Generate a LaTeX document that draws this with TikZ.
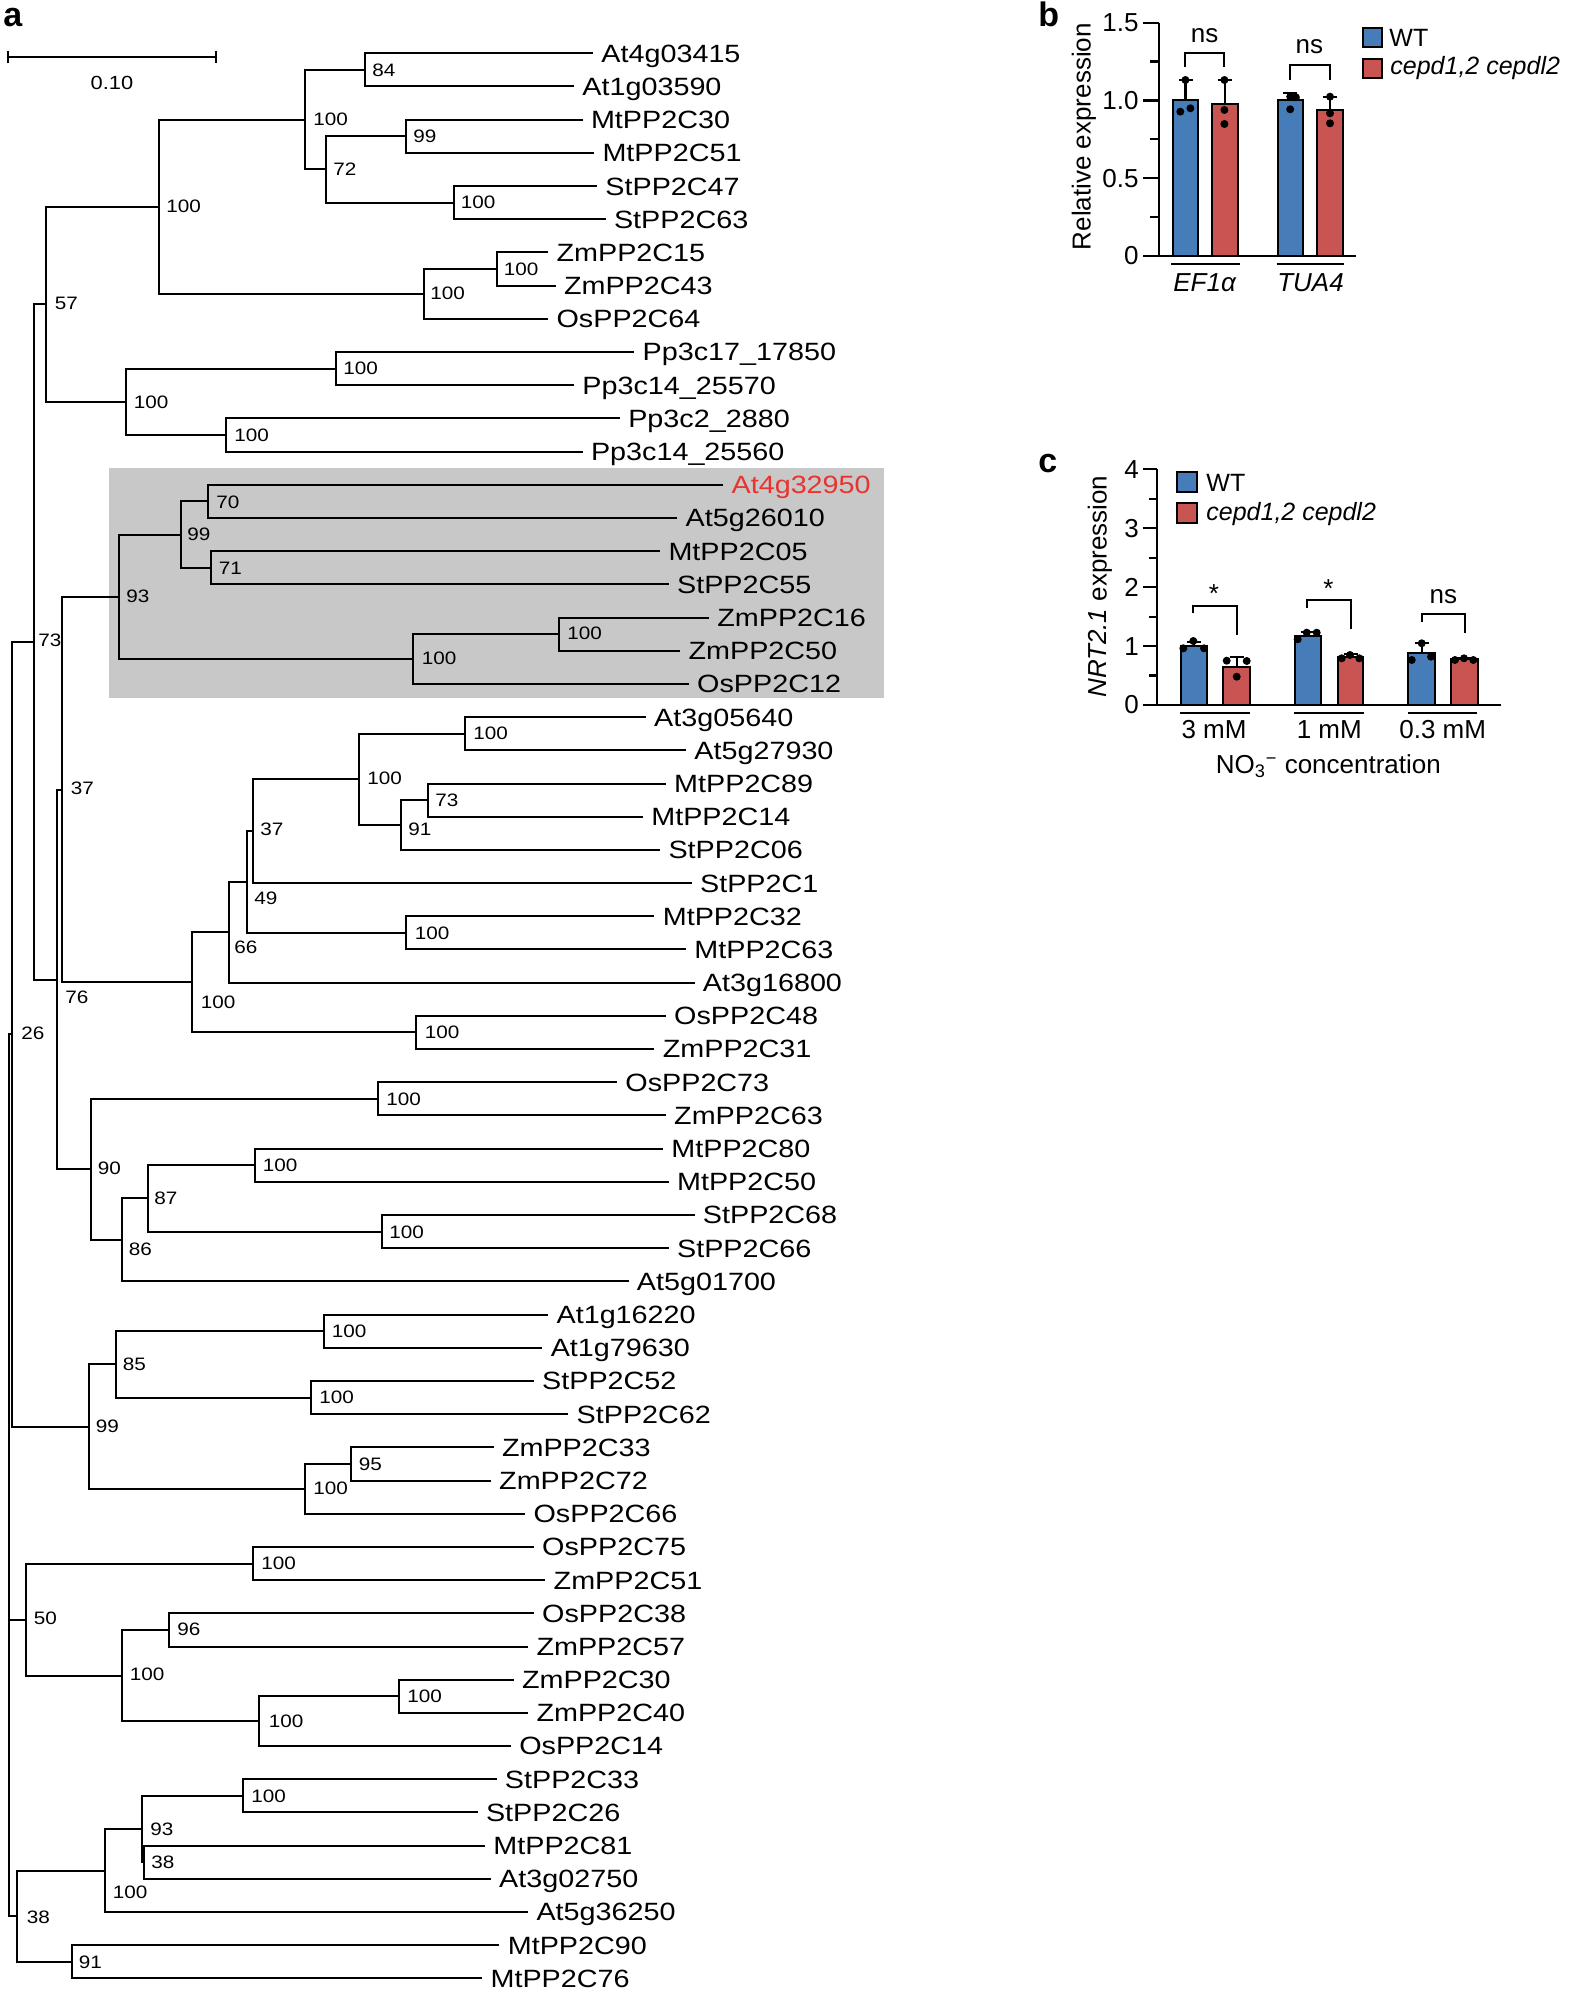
\documentclass[tikz,border=0pt]{standalone}
\usepackage{fontspec}
\setmainfont{Liberation Sans}
\newfontfamily\treefont[FakeStretch=1.15]{Liberation Sans}
\definecolor{wtblue}{RGB}{70,125,185}
\definecolor{mutred}{RGB}{200,85,82}
\definecolor{boxgray}{RGB}{200,200,200}
\definecolor{hlred}{RGB}{232,52,46}
\tikzset{
  br/.style={line width=1pt},
  leaf/.style={font=\treefont\fontsize{12.5}{14}\selectfont, anchor=west, inner xsep=4pt, inner ysep=0pt, text height=8.95pt, text depth=0pt},
  bs/.style={font=\treefont\fontsize{9}{10}\selectfont, anchor=west, inner sep=0pt, text height=6.45pt, text depth=0pt},
  lab/.style={font=\fontsize{13}{15}\selectfont, inner sep=0pt},
  leg/.style={font=\fontsize{12.5}{15}\selectfont, inner sep=0pt, anchor=west},
  panel/.style={font=\bfseries\fontsize{17}{20}\selectfont, inner sep=0pt, anchor=base west},
  axis/.style={line width=1.1pt},
  barbox/.style={line width=1.1pt, draw=black},
  errb/.style={line width=1.1pt},
  brk/.style={line width=1pt},
  dotm/.style={fill=black}
}
\begin{document}
\begin{tikzpicture}[x=0.5pt,y=-0.5pt]
\useasboundingbox (0,0) rectangle (1570,1989);
% ---------------- panel a ----------------
\node[panel] (pa) at (3,27) {a};
\fill[boxgray] (109.1,468.3) rectangle (884,698.3);
% scale bar
\draw[br] (7.5,56.7) -- (216.4,56.7) (7.5,50.7) -- (7.5,63.3) (216.4,50.7) -- (216.4,63.3);
\node[font=\treefont\fontsize{9.5}{11}\selectfont, inner sep=0pt] (sbl) at (112,82.7) {0.10};
% leaves
\node[leaf] (t1) at (593.0,53.3) {At4g03415};
\node[leaf] (t2) at (574.0,86.5) {At1g03590};
\node[leaf] (t3) at (582.6,119.7) {MtPP2C30};
\node[leaf] (t4) at (594.1,152.9) {MtPP2C51};
\node[leaf] (t5) at (597.0,186.1) {StPP2C47};
\node[leaf] (t6) at (605.6,219.3) {StPP2C63};
\node[leaf] (t7) at (548.2,252.4) {ZmPP2C15};
\node[leaf] (t8) at (555.6,285.6) {ZmPP2C43};
\node[leaf] (t9) at (548.2,318.8) {OsPP2C64};
\node[leaf] (t10) at (634.3,352.0) {Pp3c17\_17850};
\node[leaf] (t11) at (574.0,385.2) {Pp3c14\_25570};
\node[leaf] (t12) at (619.9,418.4) {Pp3c2\_2880};
\node[leaf] (t13) at (582.6,451.6) {Pp3c14\_25560};
\node[leaf, text=hlred] (t14) at (723.2,484.8) {At4g32950};
\node[leaf] (t15) at (677.3,518.0) {At5g26010};
\node[leaf] (t16) at (660.1,551.2) {MtPP2C05};
\node[leaf] (t17) at (668.7,584.3) {StPP2C55};
\node[leaf] (t18) at (708.9,617.5) {ZmPP2C16};
\node[leaf] (t19) at (680.2,650.7) {ZmPP2C50};
\node[leaf] (t20) at (688.8,683.9) {OsPP2C12};
\node[leaf] (t21) at (645.8,717.1) {At3g05640};
\node[leaf] (t22) at (686.0,750.3) {At5g27930};
\node[leaf] (t23) at (665.8,783.5) {MtPP2C89};
\node[leaf] (t24) at (642.9,816.7) {MtPP2C14};
\node[leaf] (t25) at (660.1,849.9) {StPP2C06};
\node[leaf] (t26) at (691.7,883.1) {StPP2C1};
\node[leaf] (t27) at (654.4,916.3) {MtPP2C32};
\node[leaf] (t28) at (686.0,949.4) {MtPP2C63};
\node[leaf] (t29) at (694.5,982.6) {At3g16800};
\node[leaf] (t30) at (665.8,1015.8) {OsPP2C48};
\node[leaf] (t31) at (654.4,1049.0) {ZmPP2C31};
\node[leaf] (t32) at (617.0,1082.2) {OsPP2C73};
\node[leaf] (t33) at (665.8,1115.4) {ZmPP2C63};
\node[leaf] (t34) at (663.0,1148.6) {MtPP2C80};
\node[leaf] (t35) at (668.7,1181.8) {MtPP2C50};
\node[leaf] (t36) at (694.5,1215.0) {StPP2C68};
\node[leaf] (t37) at (668.7,1248.2) {StPP2C66};
\node[leaf] (t38) at (628.5,1281.4) {At5g01700};
\node[leaf] (t39) at (548.2,1314.6) {At1g16220};
\node[leaf] (t40) at (542.4,1347.7) {At1g79630};
\node[leaf] (t41) at (533.8,1380.9) {StPP2C52};
\node[leaf] (t42) at (568.3,1414.1) {StPP2C62};
\node[leaf] (t43) at (493.6,1447.3) {ZmPP2C33};
\node[leaf] (t44) at (490.8,1480.5) {ZmPP2C72};
\node[leaf] (t45) at (525.2,1513.7) {OsPP2C66};
\node[leaf] (t46) at (533.8,1546.9) {OsPP2C75};
\node[leaf] (t47) at (545.3,1580.1) {ZmPP2C51};
\node[leaf] (t48) at (533.8,1613.3) {OsPP2C38};
\node[leaf] (t49) at (528.1,1646.5) {ZmPP2C57};
\node[leaf] (t50) at (513.7,1679.6) {ZmPP2C30};
\node[leaf] (t51) at (528.1,1712.8) {ZmPP2C40};
\node[leaf] (t52) at (510.9,1746.0) {OsPP2C14};
\node[leaf] (t53) at (496.5,1779.2) {StPP2C33};
\node[leaf] (t54) at (477.6,1812.4) {StPP2C26};
\node[leaf] (t55) at (485.0,1845.6) {MtPP2C81};
\node[leaf] (t56) at (490.8,1878.8) {At3g02750};
\node[leaf] (t57) at (528.1,1912.0) {At5g36250};
\node[leaf] (t58) at (499.4,1945.2) {MtPP2C90};
\node[leaf] (t59) at (482.2,1978.4) {MtPP2C76};
% internal nodes
\coordinate (nA) at (365.1,69.9);
\coordinate (nB) at (406.4,136.3);
\coordinate (nC) at (453.5,202.7);
\coordinate (nD) at (326.0,169.5);
\coordinate (nE) at (304.8,119.7);
\coordinate (nF) at (496.5,269.0);
\coordinate (nG) at (423.6,293.9);
\coordinate (nH) at (159.0,206.8);
\coordinate (nP1) at (335.8,368.6);
\coordinate (nP2) at (225.6,435.0);
\coordinate (nP) at (126.3,401.8);
\coordinate (nI) at (45.9,304.3);
\coordinate (nQ1) at (207.8,501.4);
\coordinate (nQ2) at (211.2,567.8);
\coordinate (nQ3) at (180.8,534.6);
\coordinate (nQ4) at (558.5,634.1);
\coordinate (nQ5) at (413.3,659.0);
\coordinate (nQ) at (119.4,596.8);
\coordinate (nR1) at (465.0,733.7);
\coordinate (nR2) at (427.6,800.1);
\coordinate (nR3) at (400.7,825.0);
\coordinate (nR4) at (359.3,779.4);
\coordinate (nR5) at (252.6,831.2);
\coordinate (nR6) at (406.4,932.9);
\coordinate (nR7) at (246.8,882.0);
\coordinate (nR8) at (228.5,932.3);
\coordinate (nR9) at (416.2,1032.4);
\coordinate (nR) at (192.3,982.4);
\coordinate (nS) at (62.0,789.6);
\coordinate (nT1) at (377.7,1098.8);
\coordinate (nT2) at (254.9,1165.2);
\coordinate (nT3) at (381.7,1231.6);
\coordinate (nT4) at (147.5,1198.4);
\coordinate (nT5) at (121.7,1239.9);
\coordinate (nT) at (90.7,1169.4);
\coordinate (nU) at (57.4,979.5);
\coordinate (nV) at (34.4,641.9);
\coordinate (nW1) at (324.3,1331.2);
\coordinate (nW2) at (311.1,1397.5);
\coordinate (nW3) at (116.0,1364.3);
\coordinate (nW4) at (351.3,1463.9);
\coordinate (nW5) at (305.4,1488.8);
\coordinate (nW) at (89.0,1426.6);
\coordinate (nX) at (12.0,1034.2);
\coordinate (nY1) at (252.6,1563.5);
\coordinate (nY2) at (169.3,1629.9);
\coordinate (nY3) at (398.9,1696.2);
\coordinate (nY4) at (259.4,1721.1);
\coordinate (nY5) at (121.7,1675.5);
\coordinate (nY) at (25.8,1619.5);
\coordinate (nZ1) at (242.8,1795.8);
\coordinate (nZ2) at (143.5,1862.2);
\coordinate (nZ3) at (141.8,1829.0);
\coordinate (nZ4) at (104.5,1870.5);
\coordinate (nZ5) at (71.8,1961.8);
\coordinate (nZ) at (17.2,1916.2);
\coordinate (root) at (8.6,1475);
% branches
\foreach \p/\c in {nA/t1.west,nA/t2.west,nB/t3.west,nB/t4.west,nC/t5.west,nC/t6.west,nD/nB,nD/nC,nE/nA,nE/nD,
  nF/t7.west,nF/t8.west,nG/nF,nG/t9.west,nH/nE,nH/nG,nP1/t10.west,nP1/t11.west,nP2/t12.west,nP2/t13.west,nP/nP1,nP/nP2,nI/nH,nI/nP,
  nQ1/t14.west,nQ1/t15.west,nQ2/t16.west,nQ2/t17.west,nQ3/nQ1,nQ3/nQ2,nQ4/t18.west,nQ4/t19.west,nQ5/nQ4,nQ5/t20.west,nQ/nQ3,nQ/nQ5,
  nR1/t21.west,nR1/t22.west,nR2/t23.west,nR2/t24.west,nR3/nR2,nR3/t25.west,nR4/nR1,nR4/nR3,nR5/nR4,nR5/t26.west,nR6/t27.west,nR6/t28.west,
  nR7/nR5,nR7/nR6,nR8/nR7,nR8/t29.west,nR9/t30.west,nR9/t31.west,nR/nR8,nR/nR9,nS/nQ,nS/nR,
  nT1/t32.west,nT1/t33.west,nT2/t34.west,nT2/t35.west,nT3/t36.west,nT3/t37.west,nT4/nT2,nT4/nT3,nT5/nT4,nT5/t38.west,nT/nT1,nT/nT5,
  nU/nS,nU/nT,nV/nI,nV/nU,
  nW1/t39.west,nW1/t40.west,nW2/t41.west,nW2/t42.west,nW3/nW1,nW3/nW2,nW4/t43.west,nW4/t44.west,nW5/nW4,nW5/t45.west,nW/nW3,nW/nW5,
  nX/nV,nX/nW,
  nY1/t46.west,nY1/t47.west,nY2/t48.west,nY2/t49.west,nY3/t50.west,nY3/t51.west,nY4/nY3,nY4/t52.west,nY5/nY2,nY5/nY4,nY/nY1,nY/nY5,
  nZ1/t53.west,nZ1/t54.west,nZ2/t55.west,nZ2/t56.west,nZ3/nZ1,nZ3/nZ2,nZ4/nZ3,nZ4/t57.west,nZ5/t58.west,nZ5/t59.west,nZ/nZ4,nZ/nZ5,
  root/nX,root/nY,root/nZ}
  \draw[br] (\p) |- (\c);
% bootstrap values
\node[bs] (bA) at (372,70) {84};
\node[bs] (bB) at (413,136) {99};
\node[bs] (bC) at (460.5,202) {100};
\node[bs] (bD) at (333,169.3) {72};
\node[bs] (bE) at (313,119.3) {100};
\node[bs] (bF) at (503.5,268.7) {100};
\node[bs] (bG) at (430,293.3) {100};
\node[bs] (bH) at (166,206) {100};
\node[bs] (bI) at (54.5,303.3) {57};
\node[bs] (bP1) at (343,368.3) {100};
\node[bs] (bP2) at (234,435) {100};
\node[bs] (bP) at (133.5,401.7) {100};
\node[bs] (bQ1) at (216,501.7) {70};
\node[bs] (bQ2) at (218.5,567.7) {71};
\node[bs] (bQ3) at (187,534) {99};
\node[bs] (bQ4) at (567,633.3) {100};
\node[bs] (bQ5) at (421.5,658.3) {100};
\node[bs] (bQ) at (126,595.7) {93};
\node[bs] (bR1) at (473,733.3) {100};
\node[bs] (bR2) at (435,800) {73};
\node[bs] (bR3) at (408,829) {91};
\node[bs] (bR4) at (367,778.3) {100};
\node[bs] (bR5) at (260,829) {37};
\node[bs] (bR6) at (414.5,932.7) {100};
\node[bs] (bR7) at (254,898.3) {49};
\node[bs] (bR8) at (234,946.7) {66};
\node[bs] (bR9) at (424.5,1031.7) {100};
\node[bs] (bR) at (200.5,1002.3) {100};
\node[bs] (bS) at (70.5,788.3) {37};
\node[bs] (bT1) at (386,1099) {100};
\node[bs] (bT2) at (262.5,1165) {100};
\node[bs] (bT3) at (389,1231.7) {100};
\node[bs] (bT4) at (154,1198.3) {87};
\node[bs] (bT5) at (128.5,1249) {86};
\node[bs] (bT) at (97.5,1168.3) {90};
\node[bs] (bU) at (65,996.7) {76};
\node[bs] (bV) at (38,640) {73};
\node[bs] (bW1) at (331.5,1331) {100};
\node[bs] (bW2) at (319,1397.3) {100};
\node[bs] (bW3) at (122.5,1364.3) {85};
\node[bs] (bW4) at (358.5,1464) {95};
\node[bs] (bW5) at (313,1488.3) {100};
\node[bs] (bW) at (95.5,1425.7) {99};
\node[bs] (bX) at (21,1033.3) {26};
\node[bs] (bY1) at (261,1562.7) {100};
\node[bs] (bY2) at (177,1629.3) {96};
\node[bs] (bY3) at (407,1695.7) {100};
\node[bs] (bY4) at (268.5,1720.7) {100};
\node[bs] (bY5) at (129.5,1674.3) {100};
\node[bs] (bY) at (33.5,1618.3) {50};
\node[bs] (bZ1) at (251,1795.7) {100};
\node[bs] (bZ2) at (151,1862.3) {38};
\node[bs] (bZ3) at (150,1829) {93};
\node[bs] (bZ4) at (112.5,1892.3) {100};
\node[bs] (bZ5) at (78.5,1961.7) {91};
\node[bs] (bZ) at (26.5,1916.7) {38};
% ---------------- panel b ----------------
\node[panel] (pb) at (1038,27) {b};
\fill[wtblue] (1172.9,256) rectangle (1198.2,100);
\draw[barbox] (1172.9,256) rectangle (1198.2,100);
\fill[mutred] (1211.7,256) rectangle (1237.8,104.3);
\draw[barbox] (1211.7,256) rectangle (1237.8,104.3);
\fill[wtblue] (1277.7,256) rectangle (1303,100);
\draw[barbox] (1277.7,256) rectangle (1303,100);
\fill[mutred] (1317.2,256) rectangle (1342.6,110);
\draw[barbox] (1317.2,256) rectangle (1342.6,110);
% error bars
\draw[errb] (1185.5,100) -- (1185.5,80) (1178.5,80) -- (1192.5,80);
\draw[errb] (1224.7,104.3) -- (1224.7,80) (1217.7,80) -- (1231.7,80);
\draw[errb] (1290.3,100) -- (1290.3,92.7) (1283.3,92.7) -- (1297.3,92.7);
\draw[errb] (1329.9,110) -- (1329.9,96.7) (1322.9,96.7) -- (1336.9,96.7);
% dots
\foreach \x/\y in {1180.3/111.7,1190.4/108.3,1185.4/80,1224.4/80,1224.4/110,1224.4/124,
  1290.2/96.7,1295.9/97.3,1290.2/109.3,1330/96.7,1330/113.3,1330/123.3}
  \fill (\x,\y) circle[radius=2pt];
% axes
\draw[axis] (1159,22.7) -- (1159,256);
\draw[axis] (1143.1,256) -- (1356.1,256);
\foreach \y in {22.7,100.5,178.3} \draw[axis] (1143.1,\y) -- (1159,\y);
\foreach \y in {61.6,139.4,217.2} \draw[axis] (1149.9,\y) -- (1159,\y);
\node[lab, anchor=east] (yb1) at (1139,22.7) {1.5};
\node[lab, anchor=east] (yb2) at (1139,100.5) {1.0};
\node[lab, anchor=east] (yb3) at (1139,178.3) {0.5};
\node[lab, anchor=east] (yb4) at (1139,256) {0};
\node[lab, rotate=90] (ylb) at (1084,136.7) {Relative expression};
% brackets
\draw[brk] (1185.4,66.7) -- (1185.4,52.7) -- (1224.2,52.7) -- (1224.2,66.7);
\draw[brk] (1290.2,80) -- (1290.2,65) -- (1330,65) -- (1330,80);
\node[lab] (nsb1) at (1204.6,35.5) {ns};
\node[lab] (nsb2) at (1309.4,47) {ns};
% group labels
\draw[axis] (1171.2,264.3) -- (1239.5,264.3);
\draw[axis] (1276.7,264.3) -- (1344.3,264.3);
\node[lab] (gb1) at (1204.6,282.7) {\itshape EF1α};
\node[lab] (gb2) at (1310.5,282.7) {\itshape TUA4};
% legend
\fill[wtblue] (1363,28.3) rectangle (1382,47.3);
\draw[barbox] (1363,28.3) rectangle (1382,47.3);
\fill[mutred] (1363,59) rectangle (1382,78);
\draw[barbox] (1363,59) rectangle (1382,78);
\node[leg] (lb1) at (1389,37.8) {WT};
\node[leg] (lb2) at (1390,68.5) {\itshape cepd1,2 cepdl2};
% ---------------- panel c ----------------
\node[panel] (pc) at (1038,473) {c};
\fill[wtblue] (1180.7,705) rectangle (1207.3,646.1);
\draw[barbox] (1180.7,705) rectangle (1207.3,646.1);
\fill[mutred] (1223.3,705) rectangle (1250,666.7);
\draw[barbox] (1223.3,705) rectangle (1250,666.7);
\fill[wtblue] (1295,705) rectangle (1321,636.1);
\draw[barbox] (1295,705) rectangle (1321,636.1);
\fill[mutred] (1337.7,705) rectangle (1363.3,657.3);
\draw[barbox] (1337.7,705) rectangle (1363.3,657.3);
\fill[wtblue] (1408.3,705) rectangle (1435,653.2);
\draw[barbox] (1408.3,705) rectangle (1435,653.2);
\fill[mutred] (1451,705) rectangle (1477.7,659.1);
\draw[barbox] (1451,705) rectangle (1477.7,659.1);
% error bars
\draw[errb] (1194,646.1) -- (1194,642) (1187,642) -- (1201,642);
\draw[errb] (1236.7,666.7) -- (1236.7,656.7) (1229.7,656.7) -- (1243.7,656.7);
\draw[errb] (1308,636.1) -- (1308,631.7) (1301,631.7) -- (1315,631.7);
\draw[errb] (1350.5,657.3) -- (1350.5,654.3) (1343.5,654.3) -- (1357.5,654.3);
\draw[errb] (1421.7,653.2) -- (1421.7,643.3) (1414.7,643.3) -- (1428.7,643.3);
\draw[errb] (1464.3,659.1) -- (1464.3,657.7) (1457.3,657.7) -- (1471.3,657.7);
\foreach \x/\y in {1183.3/648.3,1193.3/641,1204/648.3,1226.7/660.7,1236.7/676.7,1246.7/661,
  1297.7/639.3,1306.7/632.7,1316.7/632.7,1341.7/658.3,1350/655,1359.3/658.3,
  1411.7/660,1421.7/643.3,1431/656.7,1455/660,1464/658.3,1473.3/660}
  \fill (\x,\y) circle[radius=2pt];
% axes
\draw[axis] (1157.3,469.3) -- (1157.3,705);
\draw[axis] (1142.7,705) -- (1500.7,705);
\foreach \y in {469.3,528.2,587.1,646.1,705} \draw[axis] (1142.7,\y) -- (1157.3,\y);
\foreach \y in {498.8,557.7,616.6,675.5} \draw[axis] (1149.3,\y) -- (1157.3,\y);
\node[lab, anchor=east] (yc4) at (1139.3,469.3) {4};
\node[lab, anchor=east] (yc3) at (1139.3,528.2) {3};
\node[lab, anchor=east] (yc2) at (1139.3,587.1) {2};
\node[lab, anchor=east] (yc1) at (1139.3,646.1) {1};
\node[lab, anchor=east] (yc0) at (1139.3,705) {0};
\node[lab, rotate=90] (ylc) at (1100,586.7) {\itshape NRT2.1\upshape{} expression};
% brackets
\draw[brk] (1193.3,613.3) -- (1193.3,605.7) -- (1236.7,605.7) -- (1236.7,635);
\draw[brk] (1307.3,608.3) -- (1307.3,600) -- (1350.7,600) -- (1350.7,629.3);
\draw[brk] (1421.7,621.7) -- (1421.7,614) -- (1465,614) -- (1465,632.7);
\node[lab] (sc1) at (1214,594) {*};
\node[lab] (sc2) at (1328.3,589) {*};
\node[lab] (sc3) at (1443.3,597) {ns};
% group labels
\draw[axis] (1180,713.3) -- (1250,713.3);
\draw[axis] (1294,713.3) -- (1364,713.3);
\draw[axis] (1408.3,713.3) -- (1477.3,713.3);
\node[lab] (gc1) at (1214,730) {3 mM};
\node[lab] (gc2) at (1329.3,730) {1 mM};
\node[lab] (gc3) at (1442.7,730) {0.3 mM};
\node[lab, anchor=base] (xlc) at (1328.3,773.3) {NO\textsubscript{3}\textsuperscript{−} concentration};
% legend
\fill[wtblue] (1177.3,472.3) rectangle (1197.3,492.3);
\draw[barbox] (1177.3,472.3) rectangle (1197.3,492.3);
\fill[mutred] (1177.3,503.3) rectangle (1197.3,523.3);
\draw[barbox] (1177.3,503.3) rectangle (1197.3,523.3);
\node[leg] (lc1) at (1206,482.6) {WT};
\node[leg] (lc2) at (1206,513.6) {\itshape cepd1,2 cepdl2};
\end{tikzpicture}
\end{document}
